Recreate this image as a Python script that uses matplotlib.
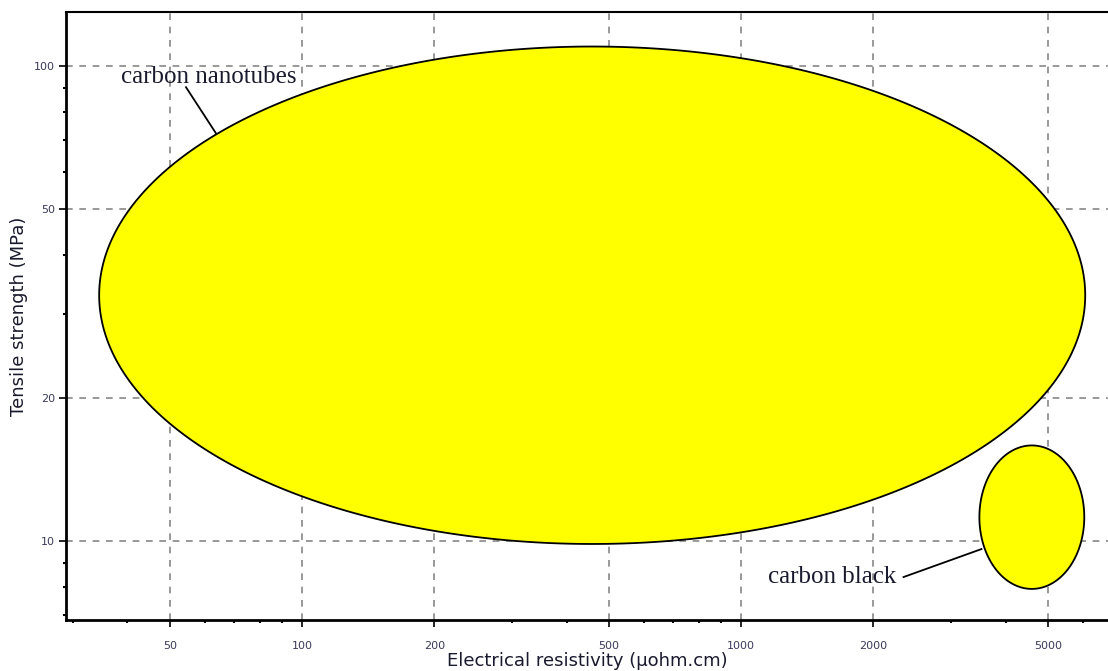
import numpy as np
import matplotlib
matplotlib.use("Agg")
import matplotlib.pyplot as plt
from matplotlib.ticker import FixedLocator, NullFormatter, LogLocator

# materials: ranges in resistivity (uohm.cm) and tensile strength (MPa)
materials = ["carbon nanotubes", "carbon black"]
res_low = [34.5, 3485]
res_high = [6070, 6040]
ts_low = [9.86, 7.93]
ts_high = [110, 15.9]

# label positions and leader lines (data coords)
label_xy = [(61.3, 94.8), (1607, 8.4)]
leader_from = [(54.4, 90.3), (2342, 8.4)]
leader_to = [(63.6, 72.3), (3523, 9.62)]

x_ticks = [50, 100, 200, 500, 1000, 2000, 5000]
y_ticks = [10, 20, 50, 100]

fig = plt.figure(figsize=(11.08, 6.71), dpi=100)
ax = fig.add_axes([0.0596, 0.076, 0.9404, 0.906])
ax.set_xscale("log")
ax.set_yscale("log")
ax.set_xlim(29, 6840)
ax.set_ylim(6.82, 130)

# ellipses drawn in log space
t = np.linspace(0, 2 * np.pi, 400)
for i in range(len(materials)):
    lx0, lx1 = np.log10(res_low[i]), np.log10(res_high[i])
    ly0, ly1 = np.log10(ts_low[i]), np.log10(ts_high[i])
    cx, cy = (lx0 + lx1) / 2, (ly0 + ly1) / 2
    rx, ry = (lx1 - lx0) / 2, (ly1 - ly0) / 2
    xs = 10 ** (cx + rx * np.cos(t))
    ys = 10 ** (cy + ry * np.sin(t))
    ax.fill(xs, ys, facecolor="#ffff00", edgecolor="black", linewidth=1.3, zorder=3)

for i in range(len(materials)):
    ax.plot([leader_from[i][0], leader_to[i][0]], [leader_from[i][1], leader_to[i][1]],
            color="black", linewidth=1.3, zorder=4)
    ax.text(label_xy[i][0], label_xy[i][1], materials[i], family="Liberation Serif",
            fontsize=18, ha="center", va="center", color="#1a1a2e", zorder=5)

ax.xaxis.set_major_locator(FixedLocator(x_ticks))
ax.yaxis.set_major_locator(FixedLocator(y_ticks))
ax.set_xticklabels([str(v) for v in x_ticks])
ax.set_yticklabels([str(v) for v in y_ticks])
ax.xaxis.set_minor_locator(LogLocator(base=10, subs=np.arange(1, 10), numticks=20))
ax.yaxis.set_minor_locator(LogLocator(base=10, subs=np.arange(1, 10), numticks=20))
ax.xaxis.set_minor_formatter(NullFormatter())
ax.yaxis.set_minor_formatter(NullFormatter())

ax.tick_params(which="major", length=5, width=1.2, labelsize=8, colors="black",
               labelcolor="#3a3a5a", pad=10)
ax.tick_params(which="minor", length=2.5, width=1.5, colors="black")
ax.tick_params(axis="y", which="major", pad=3)

ax.grid(True, which="major", linestyle=(0, (4, 4)), color="#888888", linewidth=1.2, zorder=0)
ax.set_axisbelow(True)

ax.spines["right"].set_visible(False)
ax.spines["left"].set_linewidth(2)
ax.spines["bottom"].set_linewidth(2)
ax.spines["top"].set_linewidth(1.5)

ax.set_xlabel("Electrical resistivity (µohm.cm)", fontsize=13, color="#1a1a2e", labelpad=1)
ax.set_ylabel("Tensile strength (MPa)", fontsize=13, color="#1a1a2e", labelpad=4)

fig.savefig("out.png", dpi=100)
